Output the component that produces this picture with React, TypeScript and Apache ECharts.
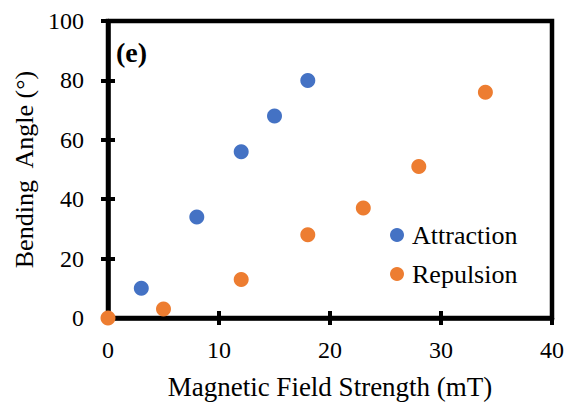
import React, { useEffect, useRef } from "react";
import * as echarts from "echarts";

const attractionX = [3, 8, 12, 15, 18];
const attractionY = [10, 34, 56, 68, 80];
const repulsionX = [0, 5, 12, 18, 23, 28, 34];
const repulsionY = [0, 3, 13, 28, 37, 51, 76];
const seriesNames = ["Attraction", "Repulsion"];
const xAxisName = "Magnetic Field Strength (mT)";
const yAxisName = "Bending  Angle (°)";
const panelLabel = "(e)";

const FONT = "Liberation Serif";

export default function App() {
  const ref = useRef<HTMLDivElement>(null);
  useEffect(() => {
    if (!ref.current) return;
    const chart = echarts.init(ref.current, undefined, { renderer: "svg" });
    const axisCommon = { min: 0, splitLine: { show: false } };
    chart.setOption({
      animation: false,
      backgroundColor: "#ffffff",
      textStyle: { fontFamily: FONT, color: "#000" },
      grid: {
        left: 108,
        top: 21,
        right: 15,
        bottom: 93,
        show: true,
        borderColor: "#000",
        borderWidth: 4.5,
        backgroundColor: "transparent",
      },
      legend: {
        orient: "vertical",
        left: 385,
        top: 217,
        itemWidth: 20,
        itemHeight: 14,
        itemGap: 13,
        icon: "circle",
        data: seriesNames,
        textStyle: { fontFamily: FONT, fontSize: 26, color: "#000", lineHeight: 26 },
      },
      xAxis: [
        {
          ...axisCommon,
          type: "value",
          position: "bottom",
          max: 40,
          interval: 10,
          name: xAxisName,
          nameLocation: "middle",
          nameGap: 55,
          nameTextStyle: { fontFamily: FONT, fontSize: 27, color: "#000" },
          axisLine: { show: true, lineStyle: { color: "#000", width: 4.5 } },
          axisTick: { show: true, inside: false, length: 7, lineStyle: { color: "#000", width: 4 } },
          axisLabel: { margin: 20, fontFamily: FONT, fontSize: 24, color: "#000" },
        },
        {
          ...axisCommon,
          type: "value",
          position: "bottom",
          max: 40,
          interval: 10,
          axisLine: { show: false },
          axisTick: { show: true, inside: true, length: 7, lineStyle: { color: "#000", width: 4 } },
          axisLabel: { show: false },
        },
      ],
      yAxis: [
        {
          ...axisCommon,
          type: "value",
          position: "left",
          max: 100,
          interval: 20,
          name: yAxisName,
          nameLocation: "middle",
          nameGap: 71,
          nameTextStyle: { fontFamily: FONT, fontSize: 26, color: "#000" },
          axisLine: { show: true, lineStyle: { color: "#000", width: 4.5 } },
          axisTick: { show: true, inside: false, length: 7, lineStyle: { color: "#000", width: 4 } },
          axisLabel: { margin: 24, fontFamily: FONT, fontSize: 24, color: "#000" },
        },
        {
          ...axisCommon,
          type: "value",
          position: "left",
          max: 100,
          interval: 20,
          axisLine: { show: false },
          axisTick: { show: true, inside: true, length: 7, lineStyle: { color: "#000", width: 4 } },
          axisLabel: { show: false },
        },
      ],
      graphic: [
        {
          type: "text",
          left: 116,
          top: 38,
          style: {
            text: panelLabel,
            fontFamily: FONT,
            fontSize: 28,
            fontWeight: "bold",
            fill: "#000",
          },
        },
      ],
      series: [
        {
          name: seriesNames[0],
          type: "scatter",
          xAxisIndex: 0,
          yAxisIndex: 0,
          symbol: "circle",
          symbolSize: 15,
          itemStyle: { color: "#4472C4", opacity: 1 },
          data: attractionX.map((x, i) => [x, attractionY[i]]),
        },
        {
          name: seriesNames[1],
          type: "scatter",
          xAxisIndex: 0,
          yAxisIndex: 0,
          symbol: "circle",
          symbolSize: 15,
          itemStyle: { color: "#ED7D31", opacity: 1 },
          data: repulsionX.map((x, i) => [x, repulsionY[i]]),
        },
      ],
    });
    return () => chart.dispose();
  }, []);
  return (
    <div
      ref={ref}
      style={{ position: "absolute", left: 0, top: 0, width: 567, height: 411 }}
    />
  );
}
